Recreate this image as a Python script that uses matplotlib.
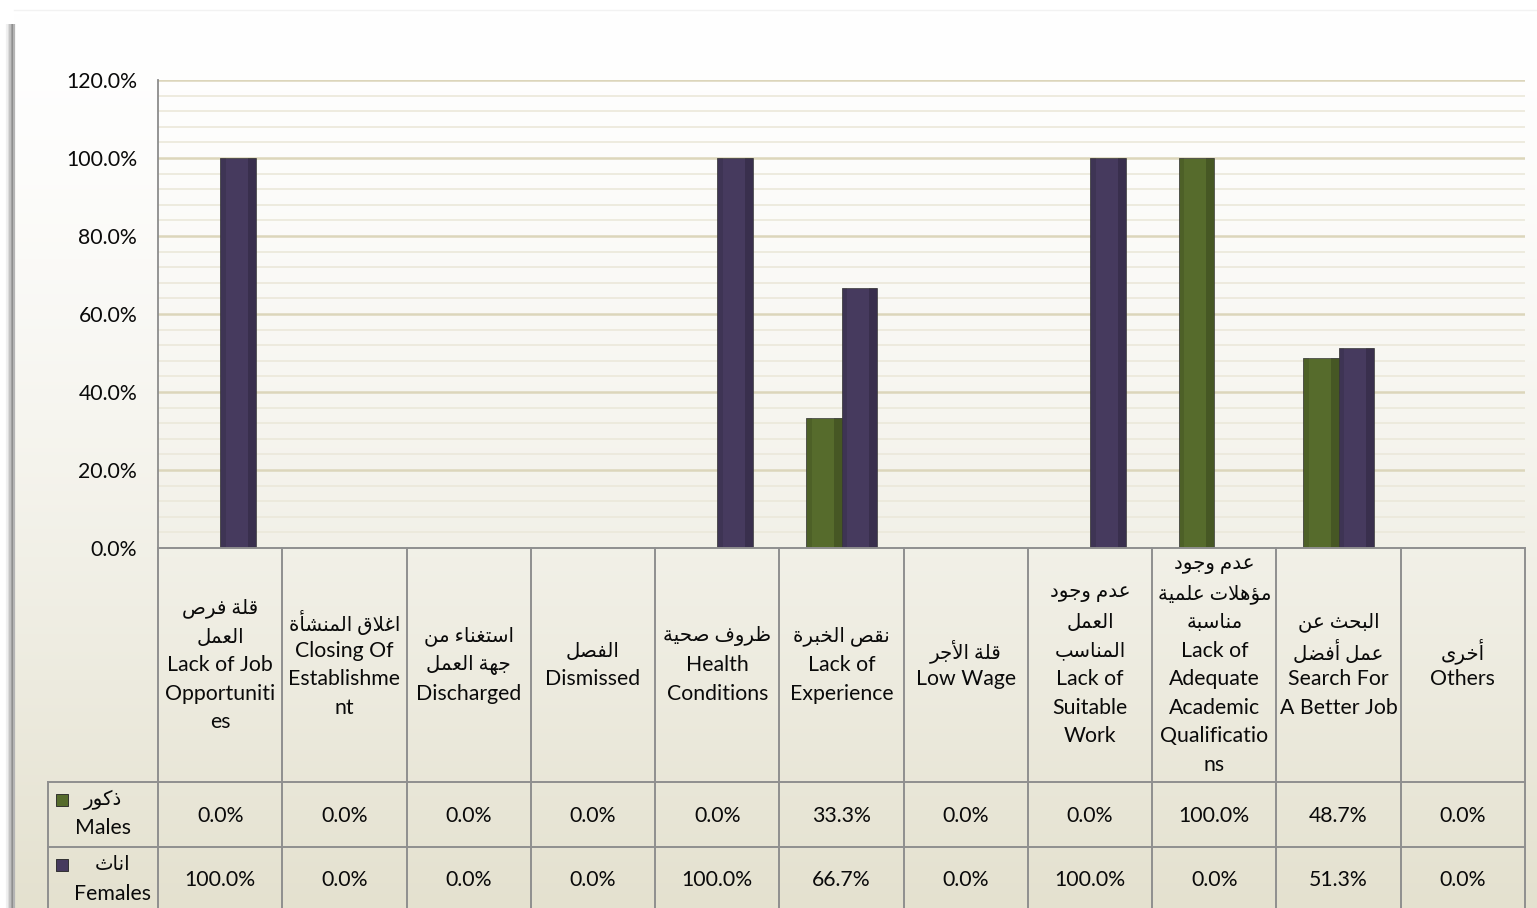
import numpy as np
import matplotlib
matplotlib.use("Agg")
import matplotlib.pyplot as plt

plt.rcParams['font.family'] = ['Lato', 'DejaVu Sans']

# ---- data ----
cats_ar = ["قلة فرص\nالعمل", "اغلاق المنشأة", "استغناء من\nجهة العمل", "الفصل",
           "ظروف صحية", "نقص الخبرة", "قلة الأجر", "عدم وجود\nالعمل\nالمناسب",
           "عدم وجود\nمؤهلات علمية\nمناسبة", "البحث عن\nعمل أفضل", "أخرى"]
cats_en = ["Lack of Job\nOpportuniti\nes", "Closing Of\nEstablishme\nnt", "Discharged",
           "Dismissed", "Health\nConditions", "Lack of\nExperience", "Low Wage",
           "Lack of\nSuitable\nWork", "Lack of\nAdequate\nAcademic\nQualificatio\nns",
           "Search For\nA Better Job", "Others"]
series_ar = ["ذكور", "اناث"]
series_en = ["Males", "Females"]
males = [0.0, 0.0, 0.0, 0.0, 0.0, 33.3, 0.0, 0.0, 100.0, 48.7, 0.0]
females = [100.0, 0.0, 0.0, 0.0, 100.0, 66.7, 0.0, 100.0, 0.0, 51.3, 0.0]
colors = ["#566b2c", "#463a5e"]
yticks = [0, 20, 40, 60, 80, 100, 120]

# ---- arabic shaping (no bidi lib available) ----
AR = {'ء': (0xFE80, 1), 'آ': (0xFE81, 2), 'أ': (0xFE83, 2), 'ؤ': (0xFE85, 2),
      'إ': (0xFE87, 2), 'ئ': (0xFE89, 4), 'ا': (0xFE8D, 2), 'ب': (0xFE8F, 4),
      'ة': (0xFE93, 2), 'ت': (0xFE95, 4), 'ث': (0xFE99, 4), 'ج': (0xFE9D, 4),
      'ح': (0xFEA1, 4), 'خ': (0xFEA5, 4), 'د': (0xFEA9, 2), 'ذ': (0xFEAB, 2),
      'ر': (0xFEAD, 2), 'ز': (0xFEAF, 2), 'س': (0xFEB1, 4), 'ش': (0xFEB5, 4),
      'ص': (0xFEB9, 4), 'ض': (0xFEBD, 4), 'ط': (0xFEC1, 4), 'ظ': (0xFEC5, 4),
      'ع': (0xFEC9, 4), 'غ': (0xFECD, 4), 'ف': (0xFED1, 4), 'ق': (0xFED5, 4),
      'ك': (0xFED9, 4), 'ل': (0xFEDD, 4), 'م': (0xFEE1, 4), 'ن': (0xFEE5, 4),
      'ه': (0xFEE9, 4), 'و': (0xFEED, 2), 'ى': (0xFEEF, 2), 'ي': (0xFEF1, 4)}
LAM_ALEF = {'آ': 0xFEF5, 'أ': 0xFEF7, 'إ': 0xFEF9, 'ا': 0xFEFB}


def shape_word(w):
    units = []
    i = 0
    while i < len(w):
        if w[i] == 'ل' and i + 1 < len(w) and w[i + 1] in LAM_ALEF:
            units.append(('LA', w[i + 1]))
            i += 2
        else:
            units.append(('C', w[i]))
            i += 1

    def joins_next(u):
        return u is not None and u[0] == 'C' and AR.get(u[1], (0, 0))[1] == 4

    def takes_prev(u):
        return u is not None and (u[0] == 'LA' or AR.get(u[1], (0, 0))[1] >= 2)

    out = []
    for k, (kind, ch) in enumerate(units):
        prev = units[k - 1] if k > 0 else None
        nxt = units[k + 1] if k + 1 < len(units) else None
        jp = joins_next(prev)
        if kind == 'LA':
            out.append(chr(LAM_ALEF[ch] + (1 if jp else 0)))
            continue
        if ch not in AR:
            out.append(ch)
            continue
        base, n = AR[ch]
        if n == 1:
            out.append(chr(base))
            continue
        jn = n == 4 and takes_prev(nxt)
        if jp and jn:
            out.append(chr(base + 3))
        elif jp:
            out.append(chr(base + 1))
        elif jn:
            out.append(chr(base + 2))
        else:
            out.append(chr(base))
    return ''.join(out)


def ar(line):
    return ' '.join(shape_word(w) for w in line.split(' '))[::-1]


FS = 15.3
FS_AR = 14.2

# ---- figure ----
W, H = 1537, 908
fig = plt.figure(figsize=(W / 100, H / 100), dpi=100)
fig.patch.set_facecolor("white")

bg = fig.add_axes([0, 0, 1, 1], zorder=-5)
bg.set_xlim(0, W)
bg.set_ylim(H, 0)
bg.axis("off")
grad = np.linspace(0, 1, 256)[:, None]
top = np.array([1.0, 1.0, 1.0])
bot = np.array([0xe4, 0xe1, 0xcf]) / 255
img = top + (bot - top) * grad[..., None] ** 1.4
bg.imshow(img, extent=[14, W, H, 10], aspect="auto")
# left shadow
for xx, c in [(7, "#f0f0f0"), (8.5, "#dedede"), (10, "#c4c4c4"), (11.5, "#a4a4a4"),
              (12.8, "#8a8a8a"), (14, "#b4b4b4")]:
    bg.plot([xx, xx], [24, H], color=c, lw=1.6, solid_capstyle="butt")
bg.plot([14, W], [10, 10], color="#f2f2f2", lw=1)

# plot area geometry (pixels)
x0, x1, ytop, ybase = 158, 1525, 80, 548
ncat = len(cats_en)
colw = (x1 - x0) / ncat

ax = fig.add_axes([x0 / W, (H - ybase) / H, (x1 - x0) / W, (ybase - ytop) / H])
ax.set_facecolor("none")
ax.set_xlim(-0.5, ncat - 0.5)
ax.set_ylim(0, 120)
for s in ["top", "right", "bottom"]:
    ax.spines[s].set_visible(False)
ax.spines["left"].set_color("#8c8c8c")
ax.spines["left"].set_linewidth(1.3)
ax.set_yticks(yticks)
ax.set_yticklabels([f"{v:.1f}%" for v in yticks], fontsize=FS, color="#0a0a0a")
ax.set_yticks(np.arange(0, 121, 4), minor=True)
ax.tick_params(axis="y", which="both", length=0, pad=15)
ax.set_xticks([])
ax.grid(axis="y", which="minor", color="#ebe8da", lw=1.2, zorder=0)
ax.grid(axis="y", which="major", color="#dcd6bb", lw=1.8, zorder=0)
ax.set_axisbelow(True)

x = np.arange(ncat)
bw = 0.286
for vals, col, off in [(males, colors[0], -bw / 2), (females, colors[1], bw / 2)]:
    ax.bar(x + off, vals, width=bw, color=col, edgecolor="#3a3a3a", linewidth=0.5, zorder=3)
    # darker right edge for the bevel look
    ax.bar(x + off + bw * 0.39, vals, width=bw * 0.22, color="black", alpha=0.18,
           linewidth=0, zorder=4)
    ax.bar(x + off - bw * 0.42, vals, width=bw * 0.16, color="black", alpha=0.10,
           linewidth=0, zorder=4)

# ---- data table ----
hdr_h, row_h = 234, 65
lab_w = 110
tab = fig.add_axes([x0 / W, 0, (x1 - x0) / W, (H - ybase) / H])
tab.set_xlim(-0.5, ncat - 0.5)
tab.set_ylim(H - ybase, 0)
tab.axis("off")


def px(p):
    return -0.5 + (p - x0) / colw


xl = px(x0 - lab_w)
lc = "#8f8f8f"
lw = 1.4
tab.plot([-0.5, ncat - 0.5], [0, 0], color=lc, lw=lw, clip_on=False)
for yy in [hdr_h, hdr_h + row_h]:
    tab.plot([xl, ncat - 0.5], [yy, yy], color=lc, lw=lw, clip_on=False)
for i in range(ncat + 1):
    tab.plot([i - 0.5, i - 0.5], [0, H], color=lc, lw=lw, clip_on=False)
tab.plot([xl, xl], [hdr_h, H], color=lc, lw=lw, clip_on=False)

lh = 28.5
for i in range(ncat):
    lines = [(ar(l), FS_AR) for l in cats_ar[i].split("\n")] + \
            [(l, FS) for l in cats_en[i].split("\n")]
    n = len(lines)
    for k, (t, fs) in enumerate(lines):
        tab.text(i, hdr_h / 2 + (k - (n - 1) / 2) * lh, t, ha="center", va="center",
                 fontsize=fs, color="#0a0a0a")

for r, vals in enumerate([males, females]):
    yc = hdr_h + row_h * (r + 0.5)
    for i, v in enumerate(vals):
        tab.text(i, yc + 1, f"{v:.1f}%", ha="center", va="center", fontsize=FS,
                 color="#0a0a0a")
    tc = px([103, 113][r])
    tab.text(tc, yc - 15, ar(series_ar[r]), ha="center", va="center", fontsize=FS_AR,
             color="#0a0a0a")
    tab.text(tc, yc + 14, series_en[r], ha="center", va="center", fontsize=FS,
             color="#0a0a0a")
    tab.scatter([px(62)], [yc - 15], marker="s", s=85, color=colors[r],
                edgecolor="#222222", linewidth=0.6, clip_on=False, zorder=5)

fig.savefig("out.png", dpi=100)
